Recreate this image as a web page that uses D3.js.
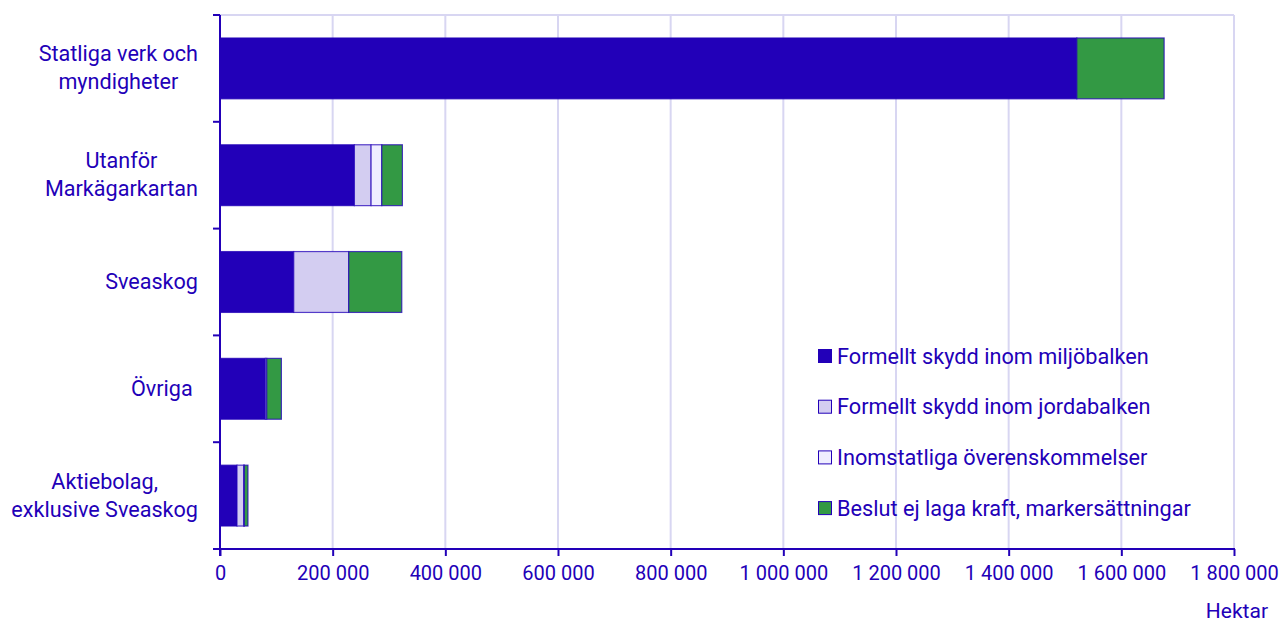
<!DOCTYPE html>
<html>
<head>
<meta charset="utf-8">
<script src="https://cdn.jsdelivr.net/npm/d3@7"></script>
<style>
  body { margin: 0; background: #fff; }
  text { font-family: Roboto, "Noto Sans", sans-serif; fill: #2200b8; }
</style>
</head>
<body>
<svg id="chart" width="1284" height="622"></svg>
<script>
// categories (line breaks as in the chart)
var categories = [
  ["Statliga verk och", "myndigheter"],
  ["Utanför", "Markägarkartan"],
  ["Sveaskog"],
  ["Övriga\u00a0"],
  ["Aktiebolag,", "exklusive Sveaskog"]
];
var seriesNames = [
  "Formellt skydd inom miljöbalken",
  "Formellt skydd inom jordabalken",
  "Inomstatliga överenskommelser",
  "Beslut ej laga kraft, markersättningar"
];
var miljobalken  = [1521000, 238600, 130900, 80500, 30200];
var jordabalken  = [0, 29600, 97600, 0, 11900];
var inomstatliga = [0, 19000, 0, 2500, 1100];
var beslut       = [155000, 36600, 94200, 26000, 6500];
var xTicks = [0, 200000, 400000, 600000, 800000, 1000000, 1200000, 1400000, 1600000, 1800000];
var colors = ["#2200b8", "#d3cdf1", "#efeeff", "#339944"];
var ink = "#2200b8";

var svg = d3.select("#chart");
var mLeft = 220, mRight = 1234, mTop = 15, mBottom = 549;

var x = d3.scaleLinear().domain([0, 1800000]).range([mLeft, mRight]);
var y = d3.scaleBand().domain(d3.range(categories.length)).range([mTop, mBottom])
  .paddingInner(0.43).paddingOuter(0.215);

// grid
svg.append("g").selectAll("line").data(xTicks.slice(1)).join("line")
  .attr("x1", d => x(d)).attr("x2", d => x(d))
  .attr("y1", mTop).attr("y2", mBottom)
  .attr("stroke", "#d8d6f2").attr("stroke-width", 2);
svg.append("line").attr("x1", mLeft).attr("x2", mRight).attr("y1", mTop).attr("y2", mTop)
  .attr("stroke", "#d8d6f2").attr("stroke-width", 2);

// stacked bars
var rows = categories.map(function (c, i) {
  return { i: i, vals: [miljobalken[i], jordabalken[i], inomstatliga[i], beslut[i]] };
});
var stack = d3.stack().keys([0, 1, 2, 3]).value(function (d, k) { return d.vals[k]; });
var layers = stack(rows);

svg.append("g").selectAll("g").data(layers).join("g")
  .attr("fill", (d, k) => colors[k])
  .selectAll("rect").data(d => d.filter(s => s[1] > s[0])).join("rect")
  .attr("x", d => x(d[0]))
  .attr("width", d => x(d[1]) - x(d[0]))
  .attr("y", d => y(d.data.i))
  .attr("height", y.bandwidth())
  .attr("stroke", ink).attr("stroke-opacity", 0.75).attr("stroke-width", 1.2);

// x axis
var fmt = d3.formatLocale({ decimal: ",", thousands: " ", grouping: [3], currency: ["", ""] }).format(",");
var xAxis = svg.append("g").attr("transform", "translate(0," + mBottom + ")")
  .call(d3.axisBottom(x).tickValues(xTicks).tickSize(7).tickPadding(10).tickFormat(fmt));
xAxis.select(".domain").remove();
xAxis.selectAll(".tick line").attr("stroke", ink).attr("stroke-width", 2);
xAxis.selectAll(".tick text").style("font-size", "20px").attr("fill", ink);
svg.append("line").attr("x1", 213).attr("x2", mRight + 1).attr("y1", mBottom).attr("y2", mBottom)
  .attr("stroke", ink).attr("stroke-width", 2);

// y axis with ticks on band boundaries
var bounds = d3.range(categories.length + 1).map(i => mTop + i * y.step());
svg.append("line").attr("x1", mLeft).attr("x2", mLeft).attr("y1", mTop).attr("y2", mBottom + 7)
  .attr("stroke", ink).attr("stroke-width", 2);
svg.append("g").selectAll("line").data(bounds.slice(0, -1)).join("line")
  .attr("x1", 213).attr("x2", mLeft).attr("y1", d => d).attr("y2", d => d)
  .attr("stroke", ink).attr("stroke-width", 2);

// category labels: block right-aligned, lines centered in block
var labelRight = 198, lineH = 28;
categories.forEach(function (lines, i) {
  var g = svg.append("g");
  var cy = y(i) + y.bandwidth() / 2;
  var t = g.selectAll("text").data(lines).join("text")
    .style("font-size", "21.6px").style("white-space", "pre")
    .attr("text-anchor", "middle")
    .attr("y", (d, j) => cy + 7 + (j - (lines.length - 1) / 2) * lineH)
    .text(d => d);
  var w = d3.max(t.nodes(), n => n.getComputedTextLength());
  t.attr("x", labelRight - w / 2);
});

// axis title
svg.append("text").attr("x", 1268).attr("y", 618).attr("text-anchor", "end")
  .style("font-size", "21px").text("Hektar");

// legend
var lg = svg.append("g").selectAll("g").data(seriesNames).join("g")
  .attr("transform", (d, k) => "translate(818," + (356 + k * 50.7) + ")");
lg.append("rect").attr("x", 0.5).attr("y", -6.5).attr("width", 13).attr("height", 13)
  .attr("fill", (d, k) => colors[k]).attr("stroke", ink).attr("stroke-width", 1);
lg.append("text").attr("x", 19).attr("y", 7.5).style("font-size", "21.7px").text(d => d);
</script>
</body>
</html>
